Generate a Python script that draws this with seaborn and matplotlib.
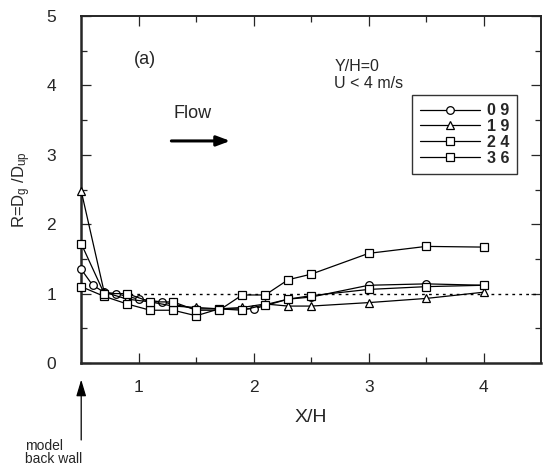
import pandas as pd
import matplotlib
matplotlib.use("Agg")
import matplotlib.pyplot as plt
import seaborn as sns

# X/H stations and R = Dg/Dup for each model case
x_09 = [0.5, 0.6, 0.7, 0.8, 1.0, 1.2, 1.5, 1.7, 2.0, 2.3, 2.5, 3.0, 3.5, 4.0]
r_09 = [1.35, 1.12, 1.02, 1.0, 0.92, 0.88, 0.78, 0.78, 0.78, 0.92, 0.95, 1.12, 1.14, 1.12]

x_19 = [0.5, 0.7, 0.9, 1.1, 1.3, 1.5, 1.7, 1.9, 2.1, 2.3, 2.5, 3.0, 3.5, 4.0]
r_19 = [2.48, 1.02, 0.92, 0.88, 0.82, 0.80, 0.78, 0.80, 0.85, 0.82, 0.82, 0.87, 0.93, 1.02]

x_24 = [0.5, 0.7, 0.9, 1.1, 1.3, 1.5, 1.7, 1.9, 2.1, 2.3, 2.5, 3.0, 3.5, 4.0]
r_24 = [1.10, 0.96, 0.85, 0.76, 0.76, 0.68, 0.78, 0.76, 0.84, 0.92, 0.97, 1.06, 1.10, 1.12]

x_36 = [0.5, 0.7, 0.9, 1.1, 1.3, 1.5, 1.7, 1.9, 2.1, 2.3, 2.5, 3.0, 3.5, 4.0]
r_36 = [1.72, 1.0, 1.0, 0.88, 0.88, 0.76, 0.76, 0.98, 0.98, 1.20, 1.28, 1.58, 1.68, 1.67]

casos = ["0 9", "1 9", "2 4", "3 6"]
marcadores = ["o", "^", "s", "s"]
tamanhos = [5.5, 5.5, 6, 6]

frames = []
for caso, xs, rs in zip(casos, [x_09, x_19, x_24, x_36], [r_09, r_19, r_24, r_36]):
    frames.append(pd.DataFrame({"X/H": xs, "R": rs, "caso": caso}))
df = pd.concat(frames, ignore_index=True)

sns.set_style("ticks")
plt.rcParams["font.family"] = ["Liberation Sans", "DejaVu Sans"]
plt.rcParams["mathtext.default"] = "regular"

fig = plt.figure(figsize=(5.45, 4.72), dpi=100)
ax = fig.add_axes([0.149, 0.231, 0.844, 0.735])

ax.hlines(1.0, 0.8, 4.5, colors="black", linestyles=(0, (2, 3)), linewidth=1.0)

for caso, m, s in zip(casos, marcadores, tamanhos):
    sns.lineplot(data=df[df["caso"] == caso], x="X/H", y="R", ax=ax, color="black",
                 marker=m, markersize=s, markerfacecolor="white",
                 markeredgecolor="black", markeredgewidth=0.9, linewidth=0.9,
                 label=caso, sort=False, clip_on=False, zorder=3)

ax.set_xlim(0.5, 4.5)
ax.set_ylim(0, 5)
ax.set_xticks([1, 2, 3, 4])
ax.set_xticks([1.5, 2.5, 3.5], minor=True)
ax.set_yticks([0, 1, 2, 3, 4, 5])
ax.set_yticks([0.5, 1.5, 2.5, 3.5, 4.5], minor=True)
ax.tick_params(which="both", direction="in", top=True, right=True, labelsize=12.5)
ax.tick_params(which="major", length=7, width=0.9)
ax.tick_params(which="minor", length=4, width=0.9)
ax.tick_params(axis="y", pad=18)
ax.tick_params(axis="x", pad=12)
for lado in ["left", "bottom"]:
    ax.spines[lado].set_linewidth(1.8)
for lado in ["top", "right"]:
    ax.spines[lado].set_linewidth(1.4)

ax.set_xlabel("X/H", fontsize=14, labelpad=10)
ax.set_ylabel("R=D$_g$ /D$_{up}$", fontsize=12, labelpad=10)

leg = ax.legend(loc="upper right", bbox_to_anchor=(0.965, 0.795), frameon=True,
                fancybox=False, edgecolor="black", handlelength=3.8,
                prop={"size": 11.5, "weight": "bold"}, borderpad=0.5,
                labelspacing=0.05, handletextpad=0.4)
leg.get_frame().set_linewidth(1.0)

ax.text(1.05, 4.37, "(a)", fontsize=13, ha="center", va="center")
ax.text(2.7, 4.27, "Y/H=0", fontsize=11.5, ha="left", va="center")
ax.text(2.7, 4.03, "U < 4 m/s", fontsize=11.5, ha="left", va="center")
ax.text(1.3, 3.6, "Flow", fontsize=13, ha="left", va="center")
ax.annotate("", xy=(1.82, 3.2), xytext=(1.26, 3.2),
            arrowprops=dict(arrowstyle="-|>,head_length=0.8,head_width=0.3",
                            color="black", linewidth=2.2))

# seta da parede do modelo, abaixo do eixo
ax.annotate("", xy=(0.5, -0.2), xytext=(0.5, -1.15), annotation_clip=False,
            arrowprops=dict(arrowstyle="-|>,head_length=1.0,head_width=0.3",
                            color="black", linewidth=0.9))
fig.text(0.046, 0.012, "model\nback wall", fontsize=10, ha="left", va="bottom",
         linespacing=0.95)

fig.savefig("out.png", dpi=100)
